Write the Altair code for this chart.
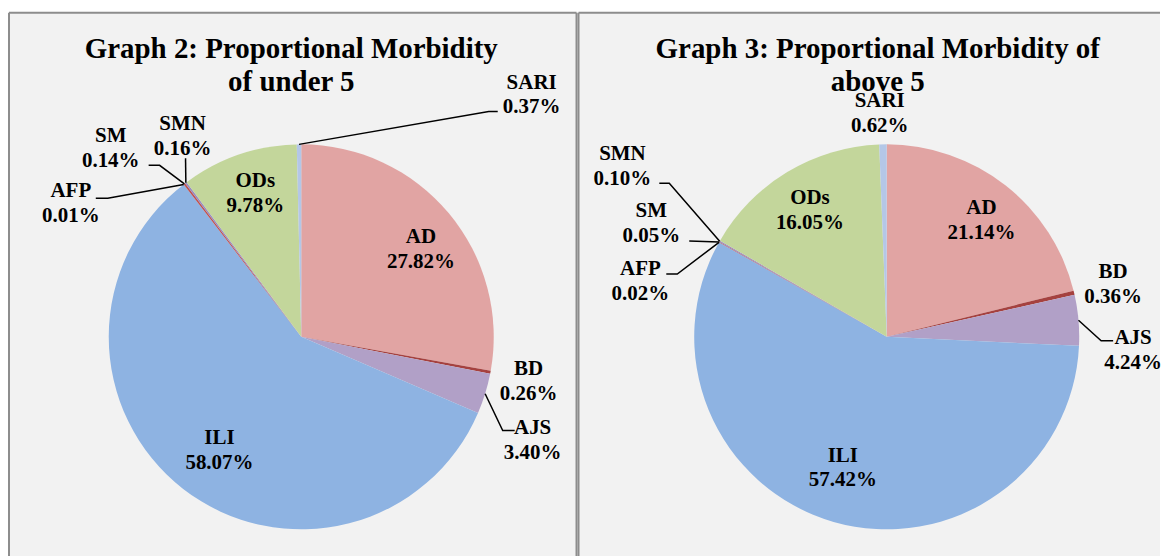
import altair as alt
import numpy as np
import pandas as pd

# ---------------- data ----------------
CATEGORIES = ["AD", "BD", "AJS", "ILI", "AFP", "SM", "SMN", "ODs", "SARI"]
UNDER5 = [27.82, 0.26, 3.40, 58.07, 0.01, 0.14, 0.16, 9.78, 0.37]
ABOVE5 = [21.14, 0.36, 4.24, 57.42, 0.02, 0.05, 0.10, 16.05, 0.62]
TITLE_UNDER5 = ["Graph 2: Proportional Morbidity", "of under 5"]
TITLE_ABOVE5 = ["Graph 3: Proportional Morbidity of", "above 5"]

# ---------------- styles ----------------
COLORS = ["#e1a4a3", "#a5413f", "#b1a0c7", "#8eb3e2", "#6f8fc9",
          "#c0504d", "#9a8cbf", "#c3d69b", "#b4c7e7"]
FONT = "Liberation Serif"
PANEL_FILL = "#f2f2f2"
BORDER = "#8d8d8d"

# ---------------- layout ----------------
H = 545
R = 193
LINE_GAP = 25
W1, W2 = 569, 583
CENTER1 = (293, 325)
CENTER2 = (309, 325)
TITLE1_X, TITLE2_X = 283, 300
TITLE_Y = [36, 69]

LABELS1 = {"AD": (120, -100), "BD": (228, 32), "AJS": (232, 91), "ILI": (-82, 101),
           "AFP": (-231, -146), "SM": (-191, -201), "SMN": (-119, -213),
           "ODs": (-46, -156), "SARI": (231, -255)}
LABELS2 = {"AD": (95, -129), "BD": (227, -65), "AJS": (247, 1), "ILI": (-44, 119),
           "AFP": (-247, -68), "SM": (-236, -126), "SMN": (-265, -183),
           "ODs": (-77, -139), "SARI": (-7, -236)}
LEADERS1 = {"SARI": [(188, -226), (197, -226)], "AJS": [(202, 94), (214, 94)],
            "AFP": [(-194, -139), (-206, -139)], "SM": [(-142, -172), (-153, -172)],
            "SMN": [(-116, -179)]}
LEADERS2 = {"SMN": [(-218, -154), (-228, -154)], "SM": [(-198, -96)],
            "AFP": [(-210, -63), (-221, -63)], "AJS": [(215, 4), (227, 4)]}


def panel(values, title_lines, W, center, title_x, labels, leaders, right_border):
    cx, cy = center
    vals = np.array(values, dtype=float)
    total = vals.sum()
    start = np.cumsum(vals) - vals
    mid = (start + vals / 2) / total * 2 * np.pi

    pie_df = pd.DataFrame({"cat": CATEGORIES, "value": values,
                           "idx": list(range(len(CATEGORIES)))})
    one = pd.DataFrame({"a": [0]})

    bg = alt.Chart(one).mark_rect(fill=PANEL_FILL).encode(
        x=alt.value(0), x2=alt.value(W), y=alt.value(0), y2=alt.value(H))
    borders = [
        alt.Chart(one).mark_rule(color=BORDER, strokeWidth=2).encode(
            x=alt.value(0), x2=alt.value(W), y=alt.value(0)),
        alt.Chart(one).mark_rule(color=BORDER, strokeWidth=2).encode(
            x=alt.value(0), y=alt.value(0), y2=alt.value(H)),
    ]
    if right_border:
        borders.append(alt.Chart(one).mark_rule(color=BORDER, strokeWidth=2).encode(
            x=alt.value(W), y=alt.value(0), y2=alt.value(H)))

    arcs = alt.Chart(pie_df).mark_arc(radius=R).encode(
        theta=alt.Theta("value:Q", stack=True),
        order=alt.Order("idx:Q", sort="ascending"),
        color=alt.Color("cat:N", scale=alt.Scale(domain=CATEGORIES, range=COLORS),
                        legend=None),
        x=alt.value(cx), y=alt.value(cy),
    )

    rows = []
    for i, cat in enumerate(CATEGORIES):
        if cat not in leaders:
            continue
        ax = cx + R * np.sin(mid[i])
        ay = cy - R * np.cos(mid[i])
        pts = [(ax, ay)] + [(cx + dx, cy + dy) for dx, dy in leaders[cat]]
        for s, (px, py) in enumerate(pts):
            rows.append({"key": cat, "seq": s, "x": float(px), "y": float(py)})
    lines = alt.Chart(pd.DataFrame(rows)).mark_line(
        color="black", strokeWidth=1.5
    ).encode(
        x=alt.X("x:Q", scale=None, axis=None),
        y=alt.Y("y:Q", scale=None, axis=None),
        detail="key:N",
        order=alt.Order("seq:Q"),
    )

    trows = []
    for i, cat in enumerate(CATEGORIES):
        dx, dy = labels[cat]
        trows.append({"text": cat, "x": cx + dx, "y": cy + dy})
        trows.append({"text": f"{values[i]:.2f}%", "x": cx + dx, "y": cy + dy + LINE_GAP})
    texts = alt.Chart(pd.DataFrame(trows)).mark_text(
        font=FONT, fontSize=21, fontWeight="bold", color="black",
        align="center", baseline="middle"
    ).encode(
        x=alt.X("x:Q", scale=None, axis=None),
        y=alt.Y("y:Q", scale=None, axis=None),
        text="text:N",
    )

    title_df = pd.DataFrame({"text": title_lines, "x": [title_x] * len(title_lines),
                             "y": TITLE_Y[:len(title_lines)]})
    title = alt.Chart(title_df).mark_text(
        font=FONT, fontSize=29, fontWeight="bold", color="black",
        align="center", baseline="middle"
    ).encode(
        x=alt.X("x:Q", scale=None, axis=None),
        y=alt.Y("y:Q", scale=None, axis=None),
        text="text:N",
    )

    return alt.layer(bg, *borders, arcs, lines, texts, title).properties(
        width=W, height=H)


p1 = panel(UNDER5, TITLE_UNDER5, W1, CENTER1, TITLE1_X, LABELS1, LEADERS1, True)
p2 = panel(ABOVE5, TITLE_ABOVE5, W2, CENTER2, TITLE2_X, LABELS2, LEADERS2, False)

chart = alt.hconcat(p1, p2, spacing=2, bounds="flush").properties(
    padding={"left": 0, "top": 3, "right": 0, "bottom": 0},
).configure_view(stroke=None)

chart.save("out.html", embed_options={"renderer": "svg", "actions": False})
